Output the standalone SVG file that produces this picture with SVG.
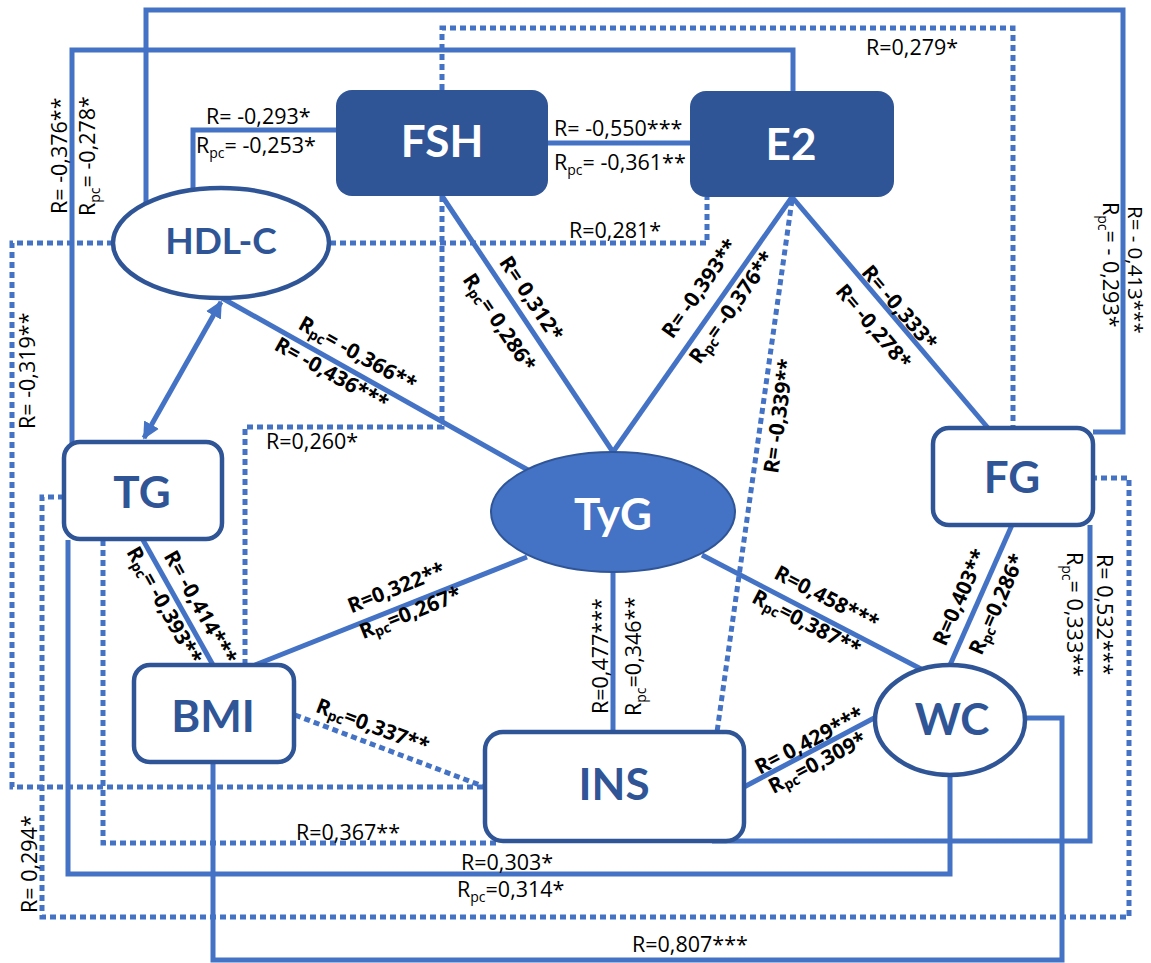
<svg xmlns="http://www.w3.org/2000/svg" width="1151" height="963" viewBox="0 0 1151 963">
<defs>
<style>
.ln{fill:none;stroke:#4472C4;stroke-width:5}
.dot{fill:none;stroke:#4472C4;stroke-width:5;stroke-dasharray:6 4}
.nd{fill:#fff;stroke:#2F5597;stroke-width:4.5}
.ndd{fill:#2F5597}
.nt{font-family:Lato,"Open Sans",sans-serif;font-weight:bold;font-size:44px;fill:#2F5597;text-anchor:middle}
.ntw{fill:#fff}
.lb{font-family:"Open Sans","Liberation Sans",sans-serif;font-size:21.5px;fill:#000}
.lbb{font-family:"Open Sans","Liberation Sans",sans-serif;font-size:21px;font-weight:bold;fill:#000;text-anchor:middle;dominant-baseline:central}
.s{font-size:14px}
</style>
<marker id="arr" viewBox="0 0 10 10" refX="9" refY="5" markerWidth="3.4" markerHeight="3.4" orient="auto-start-reverse">
<path d="M0,0 L10,5 L0,10 z" fill="#4472C4"/>
</marker>
</defs>
<rect width="1151" height="963" fill="#fff"/>
<g id="connectors">
<path class="ln" d="M146,203 V10 H1123 V432 H1093"/>
<path class="ln" d="M72,444 V50 H793 V92"/>
<path class="ln" d="M193,190 V130 H336"/>
<path class="ln" d="M548,143 H690"/>
<path class="ln" d="M442,196 L613,452"/>
<path class="ln" d="M792,197 L613,452"/>
<path class="ln" d="M792,197 L988,428"/>
<path class="ln" d="M222,298 L528,470"/>
<path class="ln" d="M221,302 L144,438" marker-start="url(#arr)" marker-end="url(#arr)"/>
<path class="ln" d="M143,540 L213,665"/>
<path class="ln" d="M255,665 L527,557"/>
<path class="ln" d="M613,572 V732"/>
<path class="ln" d="M702,555 L923,670"/>
<path class="ln" d="M1012,525 L950,665"/>
<path class="ln" d="M744,787 L876,717"/>
<path class="ln" d="M712,841 H1090 V525"/>
<path class="ln" d="M68,540 V874 H950 V775"/>
<path class="ln" d="M213,762 V960 H1062 V718 H1025"/>
<path class="dot" d="M113,243 H12 V787 H485"/>
<path class="dot" d="M330,243 H707 V197"/>
<path class="dot" d="M442,90 V28 H1013 V428"/>
<path class="dot" d="M442,196 V427 H245 V665"/>
<path class="dot" d="M64,497 H42 V917 H1129 V478 H1093"/>
<path class="dot" d="M103,540 V843 H500"/>
<path class="dot" d="M295,715 L485,787"/>
<path class="dot" d="M792,200 L717,732"/>
</g>
<g id="labels">
<text class="lb" x="206" y="124">R= -0,293*</text>
<text class="lb" x="196" y="153">R<tspan class="s" dy="5">pc</tspan><tspan dy="-5">= -0,253*</tspan></text>
<text class="lb" x="554" y="136">R= -0,550***</text>
<text class="lb" x="554" y="170">R<tspan class="s" dy="5">pc</tspan><tspan dy="-5">= -0,361**</tspan></text>
<text class="lb" x="569" y="238">R=0,281*</text>
<text class="lb" x="866" y="55">R=0,279*</text>
<text class="lb" x="266" y="449">R=0,260*</text>
<text class="lb" x="296" y="840">R=0,367**</text>
<text class="lb" x="461" y="870">R=0,303*</text>
<text class="lb" x="457" y="897">R<tspan class="s" dy="5">pc</tspan><tspan dy="-5">=0,314*</tspan></text>
<text class="lb" x="632" y="952">R=0,807***</text>
<text class="lb" transform="translate(67,214) rotate(-90)">R= -0,376**</text>
<text class="lb" transform="translate(95,216) rotate(-90)">R<tspan class="s" dy="5">pc</tspan><tspan dy="-5">= -0,278*</tspan></text>
<text class="lb" transform="translate(35,429) rotate(-90)">R= -0,319**</text>
<text class="lb" transform="translate(37,913) rotate(-90)">R= 0,294*</text>
<text class="lb" transform="translate(608,714) rotate(-90)">R=0,477***</text>
<text class="lb" transform="translate(641,716) rotate(-90)">R<tspan class="s" dy="5">pc</tspan><tspan dy="-5">=0,346**</tspan></text>
<text class="lb" transform="translate(1128,206) rotate(90)" style="font-size:20.5px">R= - 0,413***</text>
<text class="lb" transform="translate(1103,202) rotate(90)">R<tspan class="s" dy="5">pc</tspan><tspan dy="-5">= - 0,293*</tspan></text>
<text class="lb" transform="translate(1097,554) rotate(90)">R= 0,532***</text>
<text class="lb" transform="translate(1067,552) rotate(90)">R<tspan class="s" dy="5">pc</tspan><tspan dy="-5">= 0,333**</tspan></text>
<text class="lbb" transform="translate(532,298) rotate(56.3)">R= 0,312*</text>
<text class="lbb" transform="translate(500,322) rotate(56.3)">R<tspan class="s" dy="5">pc</tspan><tspan dy="-5">= 0,286*</tspan></text>
<text class="lbb" transform="translate(699,288) rotate(-54.9)">R= -0,393**</text>
<text class="lbb" transform="translate(731,307) rotate(-54.9)">R<tspan class="s" dy="5">pc</tspan><tspan dy="-5">= -0,376**</tspan></text>
<text class="lbb" transform="translate(900,307) rotate(49.7)">R= -0,333*</text>
<text class="lbb" transform="translate(874,326) rotate(49.7)">R= -0,278*</text>
<text class="lbb" transform="translate(358,353) rotate(29.3)">R<tspan class="s" dy="5">pc</tspan><tspan dy="-5">= -0,366**</tspan></text>
<text class="lbb" transform="translate(332,373) rotate(29.3)">R= -0,436***</text>
<text class="lbb" transform="translate(201,607) rotate(60.75)">R= -0,414***</text>
<text class="lbb" transform="translate(165,605) rotate(60.75)">R<tspan class="s" dy="5">pc</tspan><tspan dy="-5">= -0,393**</tspan></text>
<text class="lbb" transform="translate(396,587) rotate(-21.7)">R=0,322**</text>
<text class="lbb" transform="translate(410,612) rotate(-21.7)">R<tspan class="s" dy="5">pc</tspan><tspan dy="-5">=0,267*</tspan></text>
<text class="lbb" transform="translate(827,597) rotate(27.5)">R=0,458***</text>
<text class="lbb" transform="translate(807,622) rotate(27.5)">R<tspan class="s" dy="5">pc</tspan><tspan dy="-5">=0,387**</tspan></text>
<text class="lbb" transform="translate(959,597) rotate(-66.1)">R=0,403**</text>
<text class="lbb" transform="translate(996,604) rotate(-66.1)">R<tspan class="s" dy="5">pc</tspan><tspan dy="-5">=0,286*</tspan></text>
<text class="lbb" transform="translate(809,740) rotate(-27.9)">R= 0,429***</text>
<text class="lbb" transform="translate(817,762) rotate(-27.9)">R<tspan class="s" dy="5">pc</tspan><tspan dy="-5">=0,309*</tspan></text>
<text class="lbb" transform="translate(373,725) rotate(20.75)">R<tspan class="s" dy="5">pc</tspan><tspan dy="-5">=0,337**</tspan></text>
<text class="lbb" transform="translate(778,416) rotate(-82)">R= -0,339**</text>
</g>
<g id="FSH"><rect class="ndd" x="336" y="90" width="212" height="106" rx="16"/><text class="nt ntw" x="442" y="157">FSH</text></g>
<g id="E2"><rect class="ndd" x="690" y="91" width="204" height="106" rx="16"/><text class="nt ntw" x="791" y="160">E2</text></g>
<g id="HDL-C"><ellipse class="nd" cx="221" cy="243" rx="108" ry="55"/><text class="nt" x="221" y="254" style="font-size:37px">HDL-C</text></g>
<g id="TG"><rect class="nd" x="64" y="442" width="158" height="97" rx="16"/><text class="nt" x="142" y="508">TG</text></g>
<g id="TyG"><ellipse cx="613" cy="512" rx="122" ry="60" fill="#4472C4" stroke="#2F5597" stroke-width="2"/><text class="nt ntw" x="613" y="530">TyG</text></g>
<g id="FG"><rect class="nd" x="933" y="428" width="160" height="97" rx="16"/><text class="nt" x="1012" y="493">FG</text></g>
<g id="BMI"><rect class="nd" x="134" y="665" width="160" height="97" rx="16"/><text class="nt" x="213" y="732">BMI</text></g>
<g id="INS"><rect class="nd" x="485" y="732" width="259" height="109" rx="18"/><text class="nt" x="614" y="800">INS</text></g>
<g id="WC"><ellipse class="nd" cx="950" cy="720" rx="75" ry="55"/><text class="nt" x="952" y="735">WC</text></g>
</svg>
